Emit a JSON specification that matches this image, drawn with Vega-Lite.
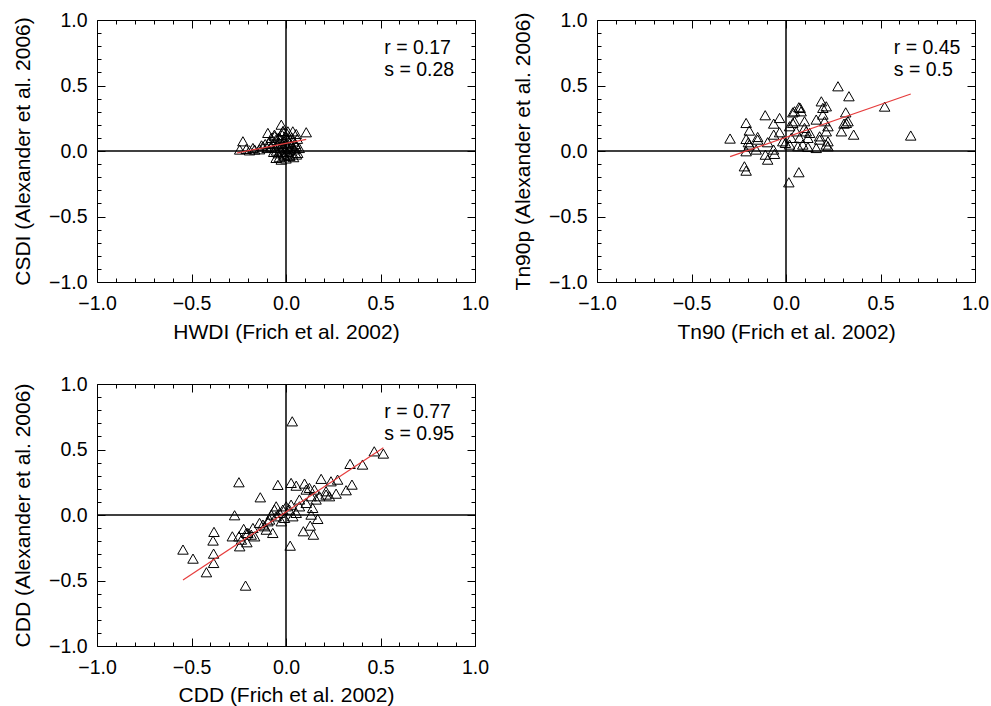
{
  "$schema": "https://vega.github.io/schema/vega-lite/v6.json",
  "background": "white",
  "padding": {"left": 12, "top": 9, "right": 5, "bottom": 5},
  "config": {
    "font": "Liberation Sans",
    "view": {"stroke": "black", "strokeWidth": 1},
    "axis": {
      "grid": false, "domain": false, "tickColor": "black", "tickWidth": 1,
      "labelColor": "black", "titleColor": "black",
      "labelFont": "Liberation Sans", "titleFont": "Liberation Sans",
      "labelFontSize": 19.5, "titleFontSize": 21, "titleFontWeight": "normal",
      "labelOverlap": false, "labelFlush": false, "labelBound": false
    }
  },
  "datasets": {
    "stats": [
      {"panel": 1, "r": "r = 0.17", "s": "s = 0.28"},
      {"panel": 2, "r": "r = 0.45", "s": "s = 0.5"},
      {"panel": 3, "r": "r = 0.77", "s": "s = 0.95"}
    ],
    "fits": [
      {"panel": 1, "x": -0.26, "y": -0.015}, {"panel": 1, "x": 0.107, "y": 0.089},
      {"panel": 2, "x": -0.296, "y": -0.043}, {"panel": 2, "x": 0.66, "y": 0.435},
      {"panel": 3, "x": -0.545, "y": -0.496}, {"panel": 3, "x": 0.515, "y": 0.514}
    ],
    "points": [
      {"panel": 1, "x": -0.245, "y": 0.008}, {"panel": 1, "x": -0.228, "y": 0.071}, {"panel": 1, "x": -0.21, "y": 0.013}, {"panel": 1, "x": -0.175, "y": 0.02},
      {"panel": 1, "x": -0.193, "y": 0.002}, {"panel": 1, "x": -0.166, "y": 0.008}, {"panel": 1, "x": -0.122, "y": 0.033}, {"panel": 1, "x": -0.096, "y": 0.135},
      {"panel": 1, "x": -0.078, "y": 0.097}, {"panel": 1, "x": -0.061, "y": 0.122}, {"panel": 1, "x": -0.025, "y": 0.198}, {"panel": 1, "x": -0.017, "y": 0.147},
      {"panel": 1, "x": 0.01, "y": 0.147}, {"panel": 1, "x": 0.036, "y": 0.147}, {"panel": 1, "x": 0.054, "y": 0.127}, {"panel": 1, "x": 0.107, "y": 0.14},
      {"panel": 1, "x": 0.054, "y": 0.033}, {"panel": 1, "x": 0.062, "y": -0.018}, {"panel": 1, "x": -0.052, "y": -0.056}, {"panel": 1, "x": -0.025, "y": -0.069},
      {"panel": 1, "x": 0.018, "y": -0.031}, {"panel": 1, "x": -0.008, "y": -0.043},
      {"panel": 1, "x": -0.07, "y": 0.05}, {"panel": 1, "x": -0.06, "y": 0.02}, {"panel": 1, "x": -0.055, "y": 0.08}, {"panel": 1, "x": -0.05, "y": 0.0},
      {"panel": 1, "x": -0.045, "y": 0.04}, {"panel": 1, "x": -0.04, "y": 0.1}, {"panel": 1, "x": -0.04, "y": -0.02}, {"panel": 1, "x": -0.035, "y": 0.06},
      {"panel": 1, "x": -0.03, "y": 0.02}, {"panel": 1, "x": -0.03, "y": 0.09}, {"panel": 1, "x": -0.025, "y": -0.01}, {"panel": 1, "x": -0.02, "y": 0.05},
      {"panel": 1, "x": -0.02, "y": 0.12}, {"panel": 1, "x": -0.015, "y": 0.03}, {"panel": 1, "x": -0.01, "y": 0.07}, {"panel": 1, "x": -0.01, "y": -0.03},
      {"panel": 1, "x": -0.005, "y": 0.01}, {"panel": 1, "x": 0.0, "y": 0.05}, {"panel": 1, "x": 0.0, "y": 0.1}, {"panel": 1, "x": 0.005, "y": -0.01},
      {"panel": 1, "x": 0.01, "y": 0.03}, {"panel": 1, "x": 0.01, "y": 0.08}, {"panel": 1, "x": 0.015, "y": 0.0}, {"panel": 1, "x": 0.02, "y": 0.06},
      {"panel": 1, "x": 0.02, "y": -0.04}, {"panel": 1, "x": 0.025, "y": 0.02}, {"panel": 1, "x": 0.03, "y": 0.1}, {"panel": 1, "x": 0.03, "y": 0.04},
      {"panel": 1, "x": 0.035, "y": -0.02}, {"panel": 1, "x": 0.04, "y": 0.07}, {"panel": 1, "x": 0.045, "y": 0.01}, {"panel": 1, "x": 0.05, "y": 0.05},
      {"panel": 1, "x": 0.055, "y": -0.03}, {"panel": 1, "x": 0.06, "y": 0.09}, {"panel": 1, "x": -0.065, "y": -0.01}, {"panel": 1, "x": -0.08, "y": 0.03},
      {"panel": 1, "x": -0.09, "y": 0.06}, {"panel": 1, "x": -0.1, "y": 0.02}, {"panel": 1, "x": -0.06, "y": 0.11}, {"panel": 1, "x": -0.015, "y": 0.15},
      {"panel": 1, "x": 0.005, "y": 0.13}, {"panel": 1, "x": -0.035, "y": -0.05}, {"panel": 1, "x": 0.0, "y": -0.06}, {"panel": 1, "x": 0.04, "y": -0.05},
      {"panel": 1, "x": 0.07, "y": 0.02}, {"panel": 1, "x": -0.11, "y": 0.05}, {"panel": 1, "x": -0.13, "y": 0.04}, {"panel": 1, "x": -0.14, "y": 0.01},

      {"panel": 2, "x": -0.296, "y": 0.092}, {"panel": 2, "x": -0.211, "y": 0.211}, {"panel": 2, "x": -0.194, "y": 0.153}, {"panel": 2, "x": -0.211, "y": 0.089},
      {"panel": 2, "x": -0.199, "y": 0.064}, {"panel": 2, "x": -0.194, "y": 0.046}, {"panel": 2, "x": -0.15, "y": 0.104}, {"panel": 2, "x": -0.15, "y": 0.084},
      {"panel": 2, "x": -0.11, "y": 0.27}, {"panel": 2, "x": -0.097, "y": 0.064}, {"panel": 2, "x": -0.065, "y": 0.206}, {"panel": 2, "x": -0.034, "y": 0.249},
      {"panel": 2, "x": -0.034, "y": 0.14}, {"panel": 2, "x": -0.065, "y": 0.122}, {"panel": 2, "x": -0.066, "y": 0.008}, {"panel": 2, "x": -0.061, "y": -0.025},
      {"panel": 2, "x": -0.109, "y": -0.031}, {"panel": 2, "x": -0.097, "y": -0.069}, {"panel": 2, "x": -0.22, "y": -0.12}, {"panel": 2, "x": -0.211, "y": -0.153},
      {"panel": 2, "x": -0.158, "y": 0.008}, {"panel": 2, "x": -0.211, "y": -0.005}, {"panel": 2, "x": 0.019, "y": 0.186}, {"panel": 2, "x": 0.036, "y": 0.211},
      {"panel": 2, "x": 0.045, "y": 0.224}, {"panel": 2, "x": 0.045, "y": 0.3}, {"panel": 2, "x": 0.068, "y": 0.331}, {"panel": 2, "x": 0.075, "y": 0.326},
      {"panel": 2, "x": 0.08, "y": 0.3}, {"panel": 2, "x": 0.036, "y": 0.292}, {"panel": 2, "x": 0.028, "y": 0.097}, {"panel": 2, "x": 0.019, "y": 0.046},
      {"panel": 2, "x": -0.003, "y": 0.059}, {"panel": 2, "x": -0.017, "y": 0.071}, {"panel": 2, "x": 0.054, "y": 0.147}, {"panel": 2, "x": 0.072, "y": 0.097},
      {"panel": 2, "x": 0.098, "y": 0.224}, {"panel": 2, "x": 0.098, "y": 0.173}, {"panel": 2, "x": 0.107, "y": 0.147}, {"panel": 2, "x": 0.116, "y": 0.097},
      {"panel": 2, "x": 0.089, "y": 0.046}, {"panel": 2, "x": 0.116, "y": 0.028}, {"panel": 2, "x": 0.16, "y": 0.02}, {"panel": 2, "x": 0.16, "y": 0.237},
      {"panel": 2, "x": 0.178, "y": 0.109}, {"panel": 2, "x": 0.187, "y": 0.376}, {"panel": 2, "x": 0.195, "y": 0.275}, {"panel": 2, "x": 0.213, "y": 0.338},
      {"panel": 2, "x": 0.195, "y": 0.326}, {"panel": 2, "x": 0.204, "y": 0.224}, {"panel": 2, "x": 0.222, "y": 0.186}, {"panel": 2, "x": 0.213, "y": 0.147},
      {"panel": 2, "x": 0.222, "y": 0.071}, {"panel": 2, "x": 0.213, "y": 0.046}, {"panel": 2, "x": 0.222, "y": 0.033}, {"panel": 2, "x": 0.275, "y": 0.491},
      {"panel": 2, "x": 0.333, "y": 0.415}, {"panel": 2, "x": 0.316, "y": 0.292}, {"panel": 2, "x": 0.319, "y": 0.211}, {"panel": 2, "x": 0.307, "y": 0.206},
      {"panel": 2, "x": 0.293, "y": 0.147}, {"panel": 2, "x": 0.358, "y": 0.122}, {"panel": 2, "x": 0.328, "y": 0.224}, {"panel": 2, "x": 0.068, "y": -0.165},
      {"panel": 2, "x": 0.015, "y": -0.242}, {"panel": 2, "x": 0.178, "y": 0.084}, {"panel": 2, "x": 0.125, "y": 0.135}, {"panel": 2, "x": 0.063, "y": 0.033},
      {"panel": 2, "x": 0.522, "y": 0.336}, {"panel": 2, "x": 0.66, "y": 0.115},

      {"panel": 3, "x": 0.033, "y": 0.712}, {"panel": 3, "x": -0.249, "y": 0.247}, {"panel": 3, "x": -0.043, "y": 0.227}, {"panel": 3, "x": -0.136, "y": 0.132},
      {"panel": 3, "x": -0.272, "y": -0.005}, {"panel": 3, "x": -0.545, "y": -0.267}, {"panel": 3, "x": -0.492, "y": -0.336}, {"panel": 3, "x": -0.421, "y": -0.44},
      {"panel": 3, "x": -0.383, "y": -0.369}, {"panel": 3, "x": -0.383, "y": -0.298}, {"panel": 3, "x": -0.386, "y": -0.198}, {"panel": 3, "x": -0.381, "y": -0.132},
      {"panel": 3, "x": -0.284, "y": -0.166}, {"panel": 3, "x": -0.249, "y": -0.166}, {"panel": 3, "x": -0.245, "y": -0.242}, {"panel": 3, "x": -0.224, "y": -0.109},
      {"panel": 3, "x": -0.207, "y": -0.211}, {"panel": 3, "x": -0.202, "y": -0.14}, {"panel": 3, "x": -0.175, "y": -0.102}, {"panel": 3, "x": -0.166, "y": -0.166},
      {"panel": 3, "x": -0.21, "y": -0.14}, {"panel": 3, "x": -0.14, "y": -0.063}, {"panel": 3, "x": -0.122, "y": -0.076}, {"panel": 3, "x": -0.104, "y": -0.115},
      {"panel": 3, "x": -0.07, "y": -0.14}, {"panel": 3, "x": -0.087, "y": -0.038}, {"panel": 3, "x": -0.061, "y": 0.038}, {"panel": 3, "x": -0.052, "y": -0.013},
      {"panel": 3, "x": -0.034, "y": 0.013}, {"panel": 3, "x": -0.025, "y": -0.051}, {"panel": 3, "x": -0.008, "y": -0.025}, {"panel": 3, "x": 0.001, "y": 0.063},
      {"panel": 3, "x": 0.018, "y": 0.038}, {"panel": 3, "x": 0.027, "y": 0.242}, {"panel": 3, "x": 0.054, "y": 0.221}, {"panel": 3, "x": 0.098, "y": 0.237},
      {"panel": 3, "x": 0.124, "y": 0.204}, {"panel": 3, "x": 0.15, "y": 0.191}, {"panel": 3, "x": 0.186, "y": 0.273}, {"panel": 3, "x": 0.238, "y": 0.254},
      {"panel": 3, "x": 0.273, "y": 0.267}, {"panel": 3, "x": 0.265, "y": 0.16}, {"panel": 3, "x": 0.318, "y": 0.186}, {"panel": 3, "x": 0.349, "y": 0.229},
      {"panel": 3, "x": 0.212, "y": 0.178}, {"panel": 3, "x": 0.177, "y": 0.14}, {"panel": 3, "x": 0.159, "y": 0.115}, {"panel": 3, "x": 0.133, "y": 0.14},
      {"panel": 3, "x": 0.107, "y": 0.089}, {"panel": 3, "x": 0.071, "y": 0.063}, {"panel": 3, "x": 0.054, "y": 0.013}, {"panel": 3, "x": 0.036, "y": -0.013},
      {"panel": 3, "x": 0.133, "y": 0.0}, {"panel": 3, "x": 0.168, "y": -0.033}, {"panel": 3, "x": 0.141, "y": 0.051}, {"panel": 3, "x": 0.092, "y": -0.127},
      {"panel": 3, "x": 0.128, "y": -0.084}, {"panel": 3, "x": 0.145, "y": -0.153}, {"panel": 3, "x": 0.022, "y": -0.237}, {"panel": 3, "x": -0.214, "y": -0.542},
      {"panel": 3, "x": 0.339, "y": 0.387}, {"panel": 3, "x": 0.405, "y": 0.382}, {"panel": 3, "x": 0.467, "y": 0.483}, {"panel": 3, "x": 0.515, "y": 0.466},
      {"panel": 3, "x": 0.107, "y": 0.191}, {"panel": 3, "x": 0.212, "y": 0.153}, {"panel": 3, "x": 0.23, "y": 0.14}, {"panel": 3, "x": 0.071, "y": 0.115},
      {"panel": 3, "x": 0.027, "y": 0.076}, {"panel": 3, "x": -0.017, "y": 0.038}, {"panel": 3, "x": -0.052, "y": 0.063}, {"panel": 3, "x": -0.078, "y": 0.0},
      {"panel": 3, "x": -0.096, "y": -0.051}, {"panel": 3, "x": -0.113, "y": -0.089}, {"panel": 3, "x": -0.184, "y": -0.153}, {"panel": 3, "x": -0.236, "y": -0.191}
    ]
  },
  "columns": 2,
  "spacing": {"row": 102, "column": 122},
  "bounds": "flush",
  "concat": [
    {
      "width": 378, "height": 262,
      "data": {"name": "stats"},
      "transform": [{"filter": "datum.panel == 1"}],
      "layer": [
        {"mark": {"type": "rule", "color": "black", "strokeWidth": 1.5}, "encoding": {"x": {"datum": 0, "type": "quantitative", "scale": {"domain": [-1, 1], "nice": false, "zero": false}, "axis": null}}},
        {"mark": {"type": "rule", "color": "black", "strokeWidth": 1.5}, "encoding": {"y": {"datum": 0, "type": "quantitative", "scale": {"domain": [-1, 1], "nice": false, "zero": false}, "axis": null}}},
        {
          "data": {"name": "points"}, "transform": [{"filter": "datum.panel == 1"}],
          "mark": {"type": "point", "shape": "M-1,0.8L0,-0.95L1,0.8Z", "filled": false, "stroke": "black", "strokeWidth": 1, "size": 110, "opacity": 1},
          "encoding": {
            "x": {"field": "x", "type": "quantitative", "scale": {"domain": [-1, 1], "nice": false, "zero": false},
              "axis": {"orient": "bottom", "title": "HWDI (Frich et al. 2002)", "values": [-1, -0.9, -0.8, -0.7, -0.6, -0.5, -0.4, -0.3, -0.2, -0.1, 0, 0.1, 0.2, 0.3, 0.4, 0.5, 0.6, 0.7, 0.8, 0.9, 1],
                "labelExpr": "abs(datum.value*2 - round(datum.value*2)) < 0.001 ? format(datum.value, '.1f') : ''",
                "tickSize": {"condition": {"test": "abs(datum.value*2 - round(datum.value*2)) < 0.001", "value": -8}, "value": -4},
                "labelPadding": 20, "titlePadding": 5}},
            "y": {"field": "y", "type": "quantitative", "scale": {"domain": [-1, 1], "nice": false, "zero": false},
              "axis": {"orient": "left", "title": "CSDI (Alexander et al. 2006)", "values": [-1, -0.9, -0.8, -0.7, -0.6, -0.5, -0.4, -0.3, -0.2, -0.1, 0, 0.1, 0.2, 0.3, 0.4, 0.5, 0.6, 0.7, 0.8, 0.9, 1],
                "labelExpr": "abs(datum.value*2 - round(datum.value*2)) < 0.001 ? format(datum.value, '.1f') : ''",
                "tickSize": {"condition": {"test": "abs(datum.value*2 - round(datum.value*2)) < 0.001", "value": -8}, "value": -4},
                "labelPadding": 18, "titlePadding": 15}}
          }
        },
        {
          "data": {"name": "fits"}, "transform": [{"filter": "datum.panel == 1"}],
          "mark": {"type": "line", "color": "#e63c3c", "strokeWidth": 1.2},
          "encoding": {
            "x": {"field": "x", "type": "quantitative", "scale": {"domain": [-1, 1], "nice": false, "zero": false},
              "axis": {"orient": "top", "title": null, "labels": false, "values": [-1, -0.9, -0.8, -0.7, -0.6, -0.5, -0.4, -0.3, -0.2, -0.1, 0, 0.1, 0.2, 0.3, 0.4, 0.5, 0.6, 0.7, 0.8, 0.9, 1],
                "tickSize": {"condition": {"test": "abs(datum.value*2 - round(datum.value*2)) < 0.001", "value": -8}, "value": -4}}},
            "y": {"field": "y", "type": "quantitative", "scale": {"domain": [-1, 1], "nice": false, "zero": false},
              "axis": {"orient": "right", "title": null, "labels": false, "values": [-1, -0.9, -0.8, -0.7, -0.6, -0.5, -0.4, -0.3, -0.2, -0.1, 0, 0.1, 0.2, 0.3, 0.4, 0.5, 0.6, 0.7, 0.8, 0.9, 1],
                "tickSize": {"condition": {"test": "abs(datum.value*2 - round(datum.value*2)) < 0.001", "value": -8}, "value": -4}}}
          }
        },
        {"mark": {"type": "text", "align": "left", "baseline": "middle", "fontSize": 19.5, "color": "black"},
          "encoding": {"x": {"datum": 0.52, "type": "quantitative", "axis": null}, "y": {"datum": 0.79, "type": "quantitative", "axis": null}, "text": {"field": "r"}}},
        {"mark": {"type": "text", "align": "left", "baseline": "middle", "fontSize": 19.5, "color": "black"},
          "encoding": {"x": {"datum": 0.52, "type": "quantitative", "axis": null}, "y": {"datum": 0.62, "type": "quantitative", "axis": null}, "text": {"field": "s"}}}
      ],
      "resolve": {"axis": {"x": "independent", "y": "independent"}}
    },
    {
      "width": 378, "height": 262,
      "data": {"name": "stats"},
      "transform": [{"filter": "datum.panel == 2"}],
      "layer": [
        {"mark": {"type": "rule", "color": "black", "strokeWidth": 1.5}, "encoding": {"x": {"datum": 0, "type": "quantitative", "scale": {"domain": [-1, 1], "nice": false, "zero": false}, "axis": null}}},
        {"mark": {"type": "rule", "color": "black", "strokeWidth": 1.5}, "encoding": {"y": {"datum": 0, "type": "quantitative", "scale": {"domain": [-1, 1], "nice": false, "zero": false}, "axis": null}}},
        {
          "data": {"name": "points"}, "transform": [{"filter": "datum.panel == 2"}],
          "mark": {"type": "point", "shape": "M-1,0.8L0,-0.95L1,0.8Z", "filled": false, "stroke": "black", "strokeWidth": 1, "size": 110, "opacity": 1},
          "encoding": {
            "x": {"field": "x", "type": "quantitative", "scale": {"domain": [-1, 1], "nice": false, "zero": false},
              "axis": {"orient": "bottom", "title": "Tn90 (Frich et al. 2002)", "values": [-1, -0.9, -0.8, -0.7, -0.6, -0.5, -0.4, -0.3, -0.2, -0.1, 0, 0.1, 0.2, 0.3, 0.4, 0.5, 0.6, 0.7, 0.8, 0.9, 1],
                "labelExpr": "abs(datum.value*2 - round(datum.value*2)) < 0.001 ? format(datum.value, '.1f') : ''",
                "tickSize": {"condition": {"test": "abs(datum.value*2 - round(datum.value*2)) < 0.001", "value": -8}, "value": -4},
                "labelPadding": 20, "titlePadding": 5}},
            "y": {"field": "y", "type": "quantitative", "scale": {"domain": [-1, 1], "nice": false, "zero": false},
              "axis": {"orient": "left", "title": "Tn90p (Alexander et al. 2006)", "values": [-1, -0.9, -0.8, -0.7, -0.6, -0.5, -0.4, -0.3, -0.2, -0.1, 0, 0.1, 0.2, 0.3, 0.4, 0.5, 0.6, 0.7, 0.8, 0.9, 1],
                "labelExpr": "abs(datum.value*2 - round(datum.value*2)) < 0.001 ? format(datum.value, '.1f') : ''",
                "tickSize": {"condition": {"test": "abs(datum.value*2 - round(datum.value*2)) < 0.001", "value": -8}, "value": -4},
                "labelPadding": 18, "titlePadding": 15}}
          }
        },
        {
          "data": {"name": "fits"}, "transform": [{"filter": "datum.panel == 2"}],
          "mark": {"type": "line", "color": "#e63c3c", "strokeWidth": 1.2},
          "encoding": {
            "x": {"field": "x", "type": "quantitative", "scale": {"domain": [-1, 1], "nice": false, "zero": false},
              "axis": {"orient": "top", "title": null, "labels": false, "values": [-1, -0.9, -0.8, -0.7, -0.6, -0.5, -0.4, -0.3, -0.2, -0.1, 0, 0.1, 0.2, 0.3, 0.4, 0.5, 0.6, 0.7, 0.8, 0.9, 1],
                "tickSize": {"condition": {"test": "abs(datum.value*2 - round(datum.value*2)) < 0.001", "value": -8}, "value": -4}}},
            "y": {"field": "y", "type": "quantitative", "scale": {"domain": [-1, 1], "nice": false, "zero": false},
              "axis": {"orient": "right", "title": null, "labels": false, "values": [-1, -0.9, -0.8, -0.7, -0.6, -0.5, -0.4, -0.3, -0.2, -0.1, 0, 0.1, 0.2, 0.3, 0.4, 0.5, 0.6, 0.7, 0.8, 0.9, 1],
                "tickSize": {"condition": {"test": "abs(datum.value*2 - round(datum.value*2)) < 0.001", "value": -8}, "value": -4}}}
          }
        },
        {"mark": {"type": "text", "align": "left", "baseline": "middle", "fontSize": 19.5, "color": "black"},
          "encoding": {"x": {"datum": 0.57, "type": "quantitative", "axis": null}, "y": {"datum": 0.79, "type": "quantitative", "axis": null}, "text": {"field": "r"}}},
        {"mark": {"type": "text", "align": "left", "baseline": "middle", "fontSize": 19.5, "color": "black"},
          "encoding": {"x": {"datum": 0.57, "type": "quantitative", "axis": null}, "y": {"datum": 0.62, "type": "quantitative", "axis": null}, "text": {"field": "s"}}}
      ],
      "resolve": {"axis": {"x": "independent", "y": "independent"}}
    },
    {
      "width": 378, "height": 262,
      "data": {"name": "stats"},
      "transform": [{"filter": "datum.panel == 3"}],
      "layer": [
        {"mark": {"type": "rule", "color": "black", "strokeWidth": 1.5}, "encoding": {"x": {"datum": 0, "type": "quantitative", "scale": {"domain": [-1, 1], "nice": false, "zero": false}, "axis": null}}},
        {"mark": {"type": "rule", "color": "black", "strokeWidth": 1.5}, "encoding": {"y": {"datum": 0, "type": "quantitative", "scale": {"domain": [-1, 1], "nice": false, "zero": false}, "axis": null}}},
        {
          "data": {"name": "points"}, "transform": [{"filter": "datum.panel == 3"}],
          "mark": {"type": "point", "shape": "M-1,0.8L0,-0.95L1,0.8Z", "filled": false, "stroke": "black", "strokeWidth": 1, "size": 110, "opacity": 1},
          "encoding": {
            "x": {"field": "x", "type": "quantitative", "scale": {"domain": [-1, 1], "nice": false, "zero": false},
              "axis": {"orient": "bottom", "title": "CDD (Frich et al. 2002)", "values": [-1, -0.9, -0.8, -0.7, -0.6, -0.5, -0.4, -0.3, -0.2, -0.1, 0, 0.1, 0.2, 0.3, 0.4, 0.5, 0.6, 0.7, 0.8, 0.9, 1],
                "labelExpr": "abs(datum.value*2 - round(datum.value*2)) < 0.001 ? format(datum.value, '.1f') : ''",
                "tickSize": {"condition": {"test": "abs(datum.value*2 - round(datum.value*2)) < 0.001", "value": -8}, "value": -4},
                "labelPadding": 20, "titlePadding": 4}},
            "y": {"field": "y", "type": "quantitative", "scale": {"domain": [-1, 1], "nice": false, "zero": false},
              "axis": {"orient": "left", "title": "CDD (Alexander et al. 2006)", "values": [-1, -0.9, -0.8, -0.7, -0.6, -0.5, -0.4, -0.3, -0.2, -0.1, 0, 0.1, 0.2, 0.3, 0.4, 0.5, 0.6, 0.7, 0.8, 0.9, 1],
                "labelExpr": "abs(datum.value*2 - round(datum.value*2)) < 0.001 ? format(datum.value, '.1f') : ''",
                "tickSize": {"condition": {"test": "abs(datum.value*2 - round(datum.value*2)) < 0.001", "value": -8}, "value": -4},
                "labelPadding": 18, "titlePadding": 15}}
          }
        },
        {
          "data": {"name": "fits"}, "transform": [{"filter": "datum.panel == 3"}],
          "mark": {"type": "line", "color": "#e63c3c", "strokeWidth": 1.2},
          "encoding": {
            "x": {"field": "x", "type": "quantitative", "scale": {"domain": [-1, 1], "nice": false, "zero": false},
              "axis": {"orient": "top", "title": null, "labels": false, "values": [-1, -0.9, -0.8, -0.7, -0.6, -0.5, -0.4, -0.3, -0.2, -0.1, 0, 0.1, 0.2, 0.3, 0.4, 0.5, 0.6, 0.7, 0.8, 0.9, 1],
                "tickSize": {"condition": {"test": "abs(datum.value*2 - round(datum.value*2)) < 0.001", "value": -8}, "value": -4}}},
            "y": {"field": "y", "type": "quantitative", "scale": {"domain": [-1, 1], "nice": false, "zero": false},
              "axis": {"orient": "right", "title": null, "labels": false, "values": [-1, -0.9, -0.8, -0.7, -0.6, -0.5, -0.4, -0.3, -0.2, -0.1, 0, 0.1, 0.2, 0.3, 0.4, 0.5, 0.6, 0.7, 0.8, 0.9, 1],
                "tickSize": {"condition": {"test": "abs(datum.value*2 - round(datum.value*2)) < 0.001", "value": -8}, "value": -4}}}
          }
        },
        {"mark": {"type": "text", "align": "left", "baseline": "middle", "fontSize": 19.5, "color": "black"},
          "encoding": {"x": {"datum": 0.52, "type": "quantitative", "axis": null}, "y": {"datum": 0.79, "type": "quantitative", "axis": null}, "text": {"field": "r"}}},
        {"mark": {"type": "text", "align": "left", "baseline": "middle", "fontSize": 19.5, "color": "black"},
          "encoding": {"x": {"datum": 0.52, "type": "quantitative", "axis": null}, "y": {"datum": 0.62, "type": "quantitative", "axis": null}, "text": {"field": "s"}}}
      ],
      "resolve": {"axis": {"x": "independent", "y": "independent"}}
    }
  ]
}
